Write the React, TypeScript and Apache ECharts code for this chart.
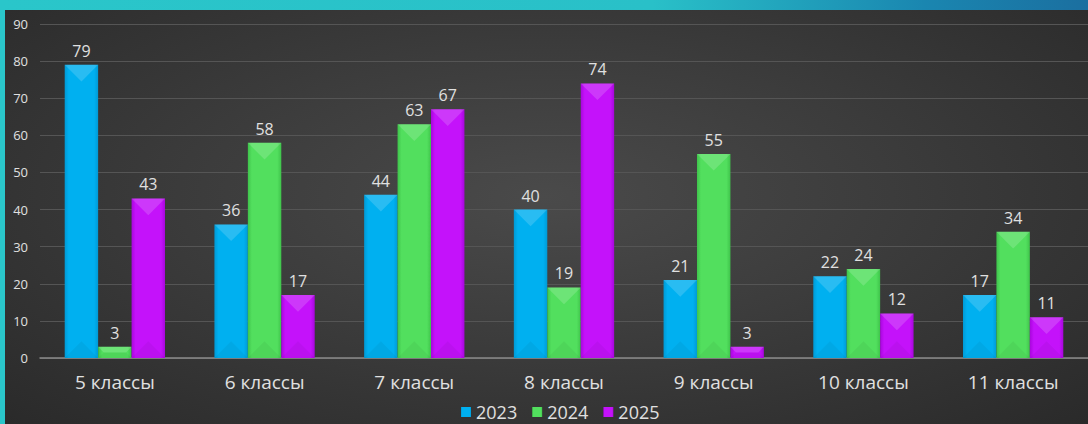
import React, { useEffect, useRef } from "react";
import * as echarts from "echarts";

const categories = ["5 классы", "6 классы", "7 классы", "8 классы", "9 классы", "10 классы", "11 классы"];
const seriesNames = ["2023", "2024", "2025"];
const values2023 = [79, 36, 44, 40, 21, 22, 17];
const values2024 = [3, 58, 63, 19, 55, 24, 34];
const values2025 = [43, 17, 67, 74, 3, 12, 11];
const yTicks = { min: 0, max: 90, interval: 10 };

const palette = [
  { base: "#00b0f0", light: "#22c4fa", dark: "#009ad6" },
  { base: "#52df5e", light: "#72ec7c", dark: "#3fc44b" },
  { base: "#c412fa", light: "#d648ff", dark: "#a806dc" },
];

const FONT = "'Open Sans', 'Noto Sans', sans-serif";
const GAP = 0.33;

export default function App() {
  const ref = useRef<HTMLDivElement>(null);
  useEffect(() => {
    document.body.style.margin = "0";
    if (!ref.current) return;
    const chart = echarts.init(ref.current, null, { renderer: "svg" });
    const data = [values2023, values2024, values2025];
    const bevelData: number[][] = [];
    data.forEach((arr, s) => arr.forEach((v, c) => bevelData.push([c, v, s])));

    const renderBevel = (params: any, api: any) => {
      const c = api.value(0);
      const v = api.value(1);
      const s = api.value(2);
      const band = api.size([1, 0])[0];
      const bw = (band * (1 - GAP)) / 3;
      const top = api.coord([c, v]);
      const base = api.coord([c, 0]);
      const x0 = base[0] - 1.5 * bw + s * bw;
      const x1 = x0 + bw;
      const h = base[1] - top[1];
      const d = Math.min(bw / 2, h / 2);
      const inset = d;
      const full = h / 2 >= bw / 2;
      const topPts = full
        ? [[x0, top[1]], [x1, top[1]], [x0 + bw / 2, top[1] + d]]
        : [[x0, top[1]], [x1, top[1]], [x1 - inset, top[1] + d], [x0 + inset, top[1] + d]];
      const botPts = full
        ? [[x0, base[1]], [x1, base[1]], [x0 + bw / 2, base[1] - d]]
        : [[x0, base[1]], [x1, base[1]], [x1 - inset, base[1] - d], [x0 + inset, base[1] - d]];
      return {
        type: "group",
        children: [
          { type: "polygon", shape: { points: topPts }, style: { fill: "rgba(255,255,255,0.16)" } },
          { type: "polygon", shape: { points: botPts }, style: { fill: "rgba(0,0,0,0.045)" } },
        ],
      };
    };

    chart.setOption({
      animation: false,
      backgroundColor: "transparent",
      textStyle: { fontFamily: FONT },
      grid: { left: 40, right: 0, top: 24, bottom: 66, containLabel: false },
      legend: {
        top: 402,
        left: 461,
        padding: 0,
        itemWidth: 10,
        itemHeight: 10,
        itemGap: 15,
        icon: "rect",
        textStyle: { color: "#e0e0e0", fontSize: 18, lineHeight: 20, fontFamily: FONT },
        data: seriesNames,
      },
      xAxis: {
        type: "category",
        data: categories,
        axisLine: { lineStyle: { color: "#8a8a8a", width: 1.5 } },
        axisTick: { show: false },
        axisLabel: { color: "#e0e0e0", fontSize: 19, margin: 14, fontFamily: FONT },
      },
      yAxis: {
        type: "value",
        min: yTicks.min,
        max: yTicks.max,
        interval: yTicks.interval,
        axisLine: { show: false },
        axisTick: { show: false },
        axisLabel: { color: "#e0e0e0", fontSize: 13, margin: 12, fontFamily: FONT },
        splitLine: { lineStyle: { color: "#555555", width: 1 } },
      },
      color: palette.map((p) => p.base),
      series: [
        ...seriesNames.map((name, i) => ({
          name,
          type: "bar",
          data: data[i],
          barGap: "0%",
          barCategoryGap: "33%",
          itemStyle: {
            color: new echarts.graphic.LinearGradient(0, 0, 1, 0, [
              { offset: 0, color: palette[i].dark },
              { offset: 0.12, color: palette[i].base },
              { offset: 0.88, color: palette[i].base },
              { offset: 1, color: palette[i].dark },
            ]),
          },
          label: {
            show: true,
            position: "top",
            distance: 6,
            color: "#e0e0e0",
            fontSize: 16,
            fontFamily: FONT,
          },
        })),
        {
          name: "bevel",
          type: "custom",
          coordinateSystem: "cartesian2d",
          renderItem: renderBevel,
          encode: { x: 0, y: 1 },
          data: bevelData,
          silent: true,
          z: 5,
        },
      ],
    });
    return () => chart.dispose();
  }, []);

  return (
    <div
      style={{
        position: "relative",
        width: 1088,
        height: 424,
        background: "linear-gradient(90deg, #2ac6ca 0%, #29c0c8 60%, #1a86b0 85%, #1b6fa0 100%)",
        overflow: "hidden",
      }}
    >
      <div
        style={{
          position: "absolute",
          left: 5,
          top: 10,
          right: 0,
          bottom: 0,
          background: "radial-gradient(ellipse at 50% 45%, #4a4a4a 0%, #3c3c3c 45%, #2a2a2a 100%)",
        }}
      />
      <div ref={ref} style={{ position: "absolute", left: 0, top: 0, width: 1088, height: 424 }} />
    </div>
  );
}
